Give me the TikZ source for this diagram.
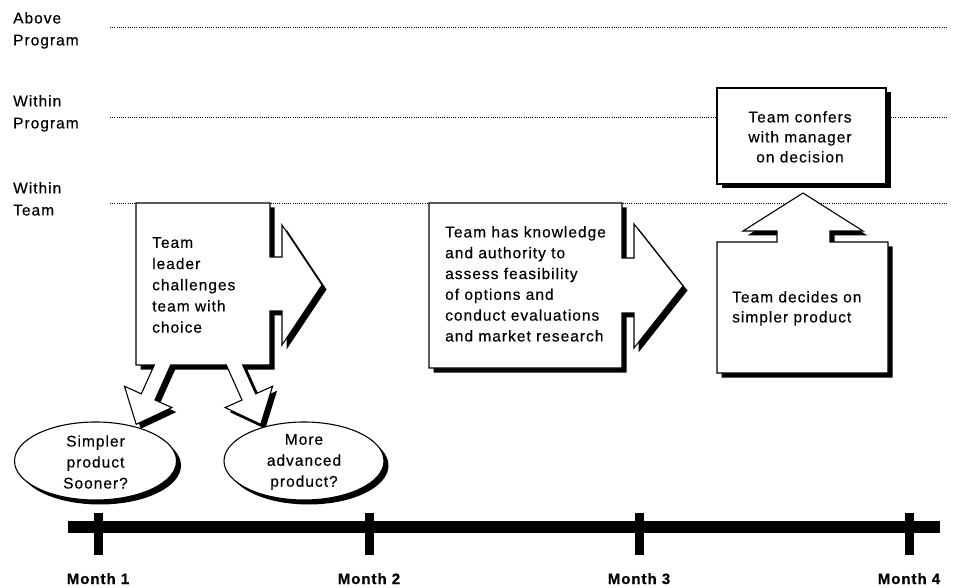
\documentclass[tikz,border=0pt]{standalone}
\usepackage{fontspec}
\setmainfont{Liberation Sans}[LetterSpace=6.5, FakeBold=0.35, BoldFeatures={FakeBold=0.7}]
% draws a closed outline with a solid drop shadow behind it
\newcommand\shadowshape[1]{%
  \fill[dropshadow] #1;
  \draw[outline] #1;}
\begin{document}
\begin{tikzpicture}[x=1pt,y=-1pt,
  outline/.style={draw=black,line width=1.1pt,fill=white,line join=miter},
  dropshadow/.style={fill=black,shift={(4.5,4.5)}},
  guide/.style={draw=black,line width=0.8pt,dash pattern=on 1pt off 1.2pt},
  bodytext/.style={inner sep=0pt,align=left,font=\fontsize{15.5}{20.8}\selectfont},
  bubbletext/.style={inner sep=0pt,align=center,font=\fontsize{15.5}{21}\selectfont},
  leveltext/.style={inner sep=0pt,anchor=north west,align=left,font=\fontsize{15.5}{22}\selectfont},
  monthtext/.style={inner sep=0pt,anchor=base,font=\fontsize{15}{16}\selectfont\bfseries},
  bar/.style={fill=black}]
\useasboundingbox[fill=white] (0,0) rectangle (954,588);

% decision levels
\node[leveltext] (lvAbove) at (13,12) {Above\\Program};
\node[leveltext] (lvProgram) at (13,95) {Within\\Program};
\node[leveltext] (lvTeam) at (13,182) {Within\\Team};
\coordinate (gA0) at (110,27);  \coordinate (gA1) at (948,27);
\coordinate (gP0) at (110,117); \coordinate (gP1) at (948,117);
\coordinate (gT0) at (110,203); \coordinate (gT1) at (948,203);
\draw[guide] (gA0) -- (gA1);
\draw[guide] (gP0) -- (gP1);
\draw[guide] (gT0) -- (gT1);

% leader's challenge: box with a right arrow and two down arrows
\shadowshape{(136,203) -- (270,203) -- (270,257) -- (282,257) -- (282,225)
  -- (322,285) -- (282,345) -- (282,311) -- (270,311) -- (270,365)
  -- (242.7,365) -- (255.69,393.85) -- (272.56,386.26) -- (260.8,424.3)
  -- (225.14,407.58) -- (242.01,399.99) -- (226.3,365)
  -- (170.7,365) -- (154.99,399.99) -- (171.86,407.58) -- (136.2,424.3)
  -- (124.44,386.26) -- (141.31,393.85) -- (154.3,365) -- (136,365) -- cycle}

% team's assessment: box with a right arrow
\shadowshape{(429,203) -- (622,203) -- (622,258) -- (634,258) -- (634,224)
  -- (683,286) -- (634,348) -- (634,313) -- (622,313) -- (622,368)
  -- (429,368) -- cycle}

% conference with the manager
\shadowshape{(717,88) -- (886,88) -- (886,184) -- (717,184) -- cycle}

% team's decision: box with an up arrow
\shadowshape{(717,242) -- (777,242) -- (777,231) -- (743,231) -- (803,193)
  -- (863,231) -- (830,231) -- (830,242) -- (888,242) -- (888,373)
  -- (717,373) -- cycle}

% the two options
\fill[dropshadow] (95.5,461) ellipse [x radius=81pt, y radius=39pt];
\draw[outline] (95.5,461) ellipse [x radius=81pt, y radius=39pt];
\fill[dropshadow] (304,461) ellipse [x radius=80pt, y radius=39pt];
\draw[outline] (304,461) ellipse [x radius=80pt, y radius=39pt];

% texts
\node[bodytext,anchor=north west,font=\fontsize{15.5}{21.2}\selectfont] (challenge) at (152,237)
  {Team\\leader\\challenges\\team with\\choice};
\node[bodytext,anchor=north west] (assess) at (445,226)
  {Team has knowledge\\and authority to\\assess feasibility\\of options and\\conduct evaluations\\and market research};
\node[bodytext,anchor=north,align=center,font=\fontsize{15.5}{20}\selectfont] (confer) at (800,111)
  {Team confers\\with manager\\on decision};
\node[bodytext,anchor=north west,font=\fontsize{15.5}{20}\selectfont] (decide) at (732,291)
  {Team decides on\\simpler product};
\node[bubbletext] (simpler) at (95.5,462) {Simpler\\product\\Sooner?};
\node[bubbletext] (advanced) at (304,462) {More\\advanced\\product?};

% time line
\coordinate (tl0) at (68,527);
\coordinate (tl1) at (940,527);
\draw[line width=12pt] (tl0) -- (tl1);
\foreach \mx/\nm in {98/1,369/2,639/3,909/4}{
  \coordinate (tick\nm a) at (\mx,513);
  \coordinate (tick\nm b) at (\mx,555);
  \draw[line width=9pt] (tick\nm a) -- (tick\nm b);
  \node[monthtext] (month\nm) at (\mx,584) {Month \nm};
}
\end{tikzpicture}
\end{document}
